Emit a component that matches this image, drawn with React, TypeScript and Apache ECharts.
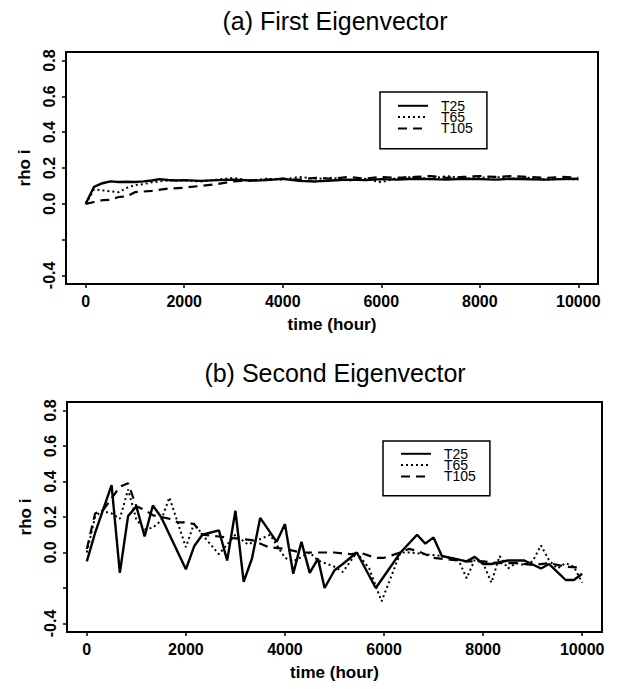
import React, { useEffect, useRef } from "react";
import * as echarts from "echarts";

// ---- data (hours, rho i) ----
const seriesNames = ["T25", "T65", "T105"];
const xTicks = [0, 2000, 4000, 6000, 8000, 10000];
const yTicks = [-0.4, -0.2, 0, 0.2, 0.4, 0.6, 0.8];
const yLabels = [-0.4, 0, 0.2, 0.4, 0.6, 0.8];

const firstT25 = [[0,0.0],[170,0.095],[340,0.115],[500,0.125],[670,0.122],[840,0.123],[1000,0.122],[1170,0.125],[1340,0.13],[1500,0.138],[1670,0.133],[1840,0.13],[2000,0.132],[2330,0.128],[2670,0.132],[3000,0.135],[3330,0.13],[3670,0.132],[4000,0.14],[4330,0.128],[4670,0.125],[5000,0.13],[5330,0.135],[5670,0.132],[6000,0.138],[6330,0.135],[6670,0.14],[7000,0.138],[7330,0.135],[7670,0.14],[8000,0.138],[8330,0.135],[8670,0.14],[9000,0.137],[9330,0.135],[9670,0.138],[10000,0.14]];
const firstT65 = [[0,0.0],[170,0.08],[340,0.075],[500,0.07],[670,0.065],[840,0.09],[1000,0.105],[1170,0.11],[1340,0.12],[1500,0.125],[1670,0.13],[2000,0.13],[2330,0.125],[2670,0.135],[3000,0.145],[3330,0.13],[3670,0.14],[4000,0.135],[4330,0.15],[4670,0.14],[5000,0.145],[5330,0.13],[5670,0.14],[6000,0.12],[6330,0.145],[6670,0.15],[7000,0.14],[7330,0.155],[7670,0.14],[8000,0.145],[8330,0.15],[8670,0.14],[9000,0.145],[9330,0.135],[9670,0.14],[10000,0.135]];
const firstT105 = [[0,0.0],[170,0.01],[340,0.02],[500,0.022],[670,0.038],[840,0.042],[1000,0.065],[1340,0.072],[1670,0.085],[2000,0.09],[2330,0.1],[2670,0.11],[3000,0.125],[3330,0.13],[3670,0.135],[4000,0.14],[4330,0.135],[4670,0.145],[5000,0.14],[5330,0.15],[5670,0.14],[6000,0.15],[6330,0.145],[6670,0.15],[7000,0.155],[7330,0.145],[7670,0.15],[8000,0.155],[8330,0.15],[8670,0.155],[9000,0.15],[9330,0.145],[9670,0.15],[10000,0.145]];

const secondT25 = [[0,-0.05],[167,0.11],[500,0.38],[667,-0.115],[833,0.205],[1000,0.26],[1167,0.09],[1333,0.265],[1500,0.2],[2000,-0.095],[2167,0.035],[2333,0.1],[2667,0.125],[2833,-0.045],[3000,0.235],[3167,-0.165],[3333,-0.035],[3500,0.195],[3833,0.06],[4000,0.16],[4167,-0.12],[4333,0.06],[4500,-0.115],[4667,-0.035],[4800,-0.2],[5000,-0.1],[5167,-0.065],[5450,0.0],[5833,-0.2],[6333,0.0],[6667,0.1],[6833,0.05],[7000,0.085],[7167,-0.02],[7667,-0.05],[7833,-0.025],[8000,-0.065],[8167,-0.065],[8500,-0.045],[8833,-0.045],[9167,-0.09],[9333,-0.065],[9667,-0.155],[9833,-0.155],[10000,-0.12]];
const secondT65 = [[0,0.0],[167,0.2],[300,0.235],[500,0.22],[667,0.19],[833,0.355],[1000,0.185],[1167,0.13],[1333,0.14],[1500,0.18],[1667,0.31],[2000,0.03],[2167,0.165],[2333,0.1],[2667,-0.01],[3000,0.1],[3250,0.045],[3700,0.1],[4000,-0.03],[4167,-0.05],[4500,0.0],[4667,-0.045],[5000,-0.08],[5167,-0.11],[5450,0.0],[5700,-0.09],[5950,-0.275],[6333,0.0],[6550,0.0],[6833,-0.01],[7167,-0.02],[7500,-0.04],[7667,-0.145],[7833,-0.04],[8000,-0.06],[8167,-0.17],[8333,-0.02],[8500,-0.09],[8667,-0.06],[8833,-0.07],[9000,-0.05],[9167,0.04],[9333,-0.045],[9500,-0.09],[9667,-0.06],[9833,-0.08],[10000,-0.17]];
const secondT105 = [[0,0.02],[167,0.22],[333,0.24],[667,0.37],[833,0.39],[1000,0.26],[1167,0.24],[1333,0.21],[1500,0.2],[1667,0.19],[1833,0.17],[2000,0.17],[2167,0.16],[2333,0.1],[2667,0.09],[3000,0.08],[3333,0.07],[3667,0.03],[4000,0.02],[4333,0.0],[4667,0.0],[5000,0.0],[5333,-0.01],[5500,0.0],[5833,-0.03],[6000,-0.03],[6333,0.0],[6500,0.02],[6667,0.01],[7000,-0.03],[7333,-0.04],[7667,-0.05],[8000,-0.05],[8333,-0.06],[8667,-0.06],[9000,-0.07],[9333,-0.06],[9667,-0.08],[10000,-0.085]];

const lineStyles = [
  { type: "solid", width: 2.4 },
  { type: [2, 3], width: 2 },
  { type: [9, 6], width: 2.2 },
];

const FONT = "'Liberation Sans', Arial, Helvetica, sans-serif";

function makeAxes(idx: number) {
  const x = {
    type: "value",
    gridIndex: idx,
    min: -400,
    max: 10400,
    name: "time (hour)",
    nameLocation: "middle",
    nameGap: 32,
    nameTextStyle: { color: "#000", fontFamily: FONT, fontSize: 17, fontWeight: "bold" },
    axisLine: { show: false, onZero: false },
    splitLine: { show: false },
    axisTick: { show: true, length: 4, customValues: xTicks, lineStyle: { color: "#000", width: 1.5 } },
    axisLabel: {
      customValues: xTicks,
      margin: 9,
      color: "#000",
      fontFamily: FONT,
      fontSize: 16,
      fontWeight: "bold",
      formatter: (v: number) => String(Math.round(v)),
    },
  };
  const y = {
    type: "value",
    gridIndex: idx,
    min: -0.448,
    max: 0.848,
    name: "rho i",
    nameLocation: "middle",
    nameRotate: 90,
    nameGap: 31,
    nameTextStyle: { color: "#000", fontFamily: FONT, fontSize: 17, fontWeight: "bold" },
    axisLine: { show: false, onZero: false },
    splitLine: { show: false },
    axisTick: { show: true, length: 4, customValues: yTicks, lineStyle: { color: "#000", width: 1.5 } },
    axisLabel: {
      customValues: yLabels,
      rotate: 90,
      margin: 9,
      color: "#000",
      fontFamily: FONT,
      fontSize: 16,
      fontWeight: "bold",
      formatter: (v: number) => v.toFixed(1),
    },
  };
  return { x, y };
}

function makeLegend(left: number, top: number, padTop: number, padBottom: number) {
  return {
    orient: "vertical",
    left,
    top,
    data: seriesNames,
    itemWidth: 30,
    itemHeight: 10,
    itemGap: -2.7,
    padding: [padTop, 14, padBottom, 17],
    borderColor: "#000",
    borderWidth: 1.5,
    backgroundColor: "#fff",
    selectedMode: false,
    itemStyle: { opacity: 0 },
    textStyle: { color: "#000", fontFamily: FONT, fontSize: 14, padding: [0, 0, 0, 8] },
  };
}

export default function App() {
  const ref = useRef<HTMLDivElement>(null);
  useEffect(() => {
    if (!ref.current) return;
    const chart = echarts.init(ref.current, undefined, { renderer: "svg" });
    const a = makeAxes(0);
    const b = makeAxes(1);
    const groups = [
      [firstT25, firstT65, firstT105],
      [secondT25, secondT65, secondT105],
    ];
    const series: any[] = [];
    groups.forEach((g, gi) => {
      g.forEach((d, si) => {
        series.push({
          type: "line",
          name: seriesNames[si],
          xAxisIndex: gi,
          yAxisIndex: gi,
          data: d,
          symbol: "none",
          lineStyle: { color: "#000", ...lineStyles[si] },
          itemStyle: { color: "#000" },
          z: 3 - si,
        });
      });
    });
    const titleStyle = { color: "#000", fontFamily: FONT, fontSize: 25, fontWeight: "normal" };
    chart.setOption({
      animation: false,
      backgroundColor: "#fff",
      title: [
        { text: "(a) First Eigenvector", left: 330, top: 3, textAlign: "center", textStyle: titleStyle },
        { text: "(b) Second Eigenvector", left: 330, top: 355, textAlign: "center", textStyle: titleStyle },
      ],
      grid: [
        { left: 66, top: 52, width: 532, height: 232, show: true, borderColor: "#000", borderWidth: 2, backgroundColor: "transparent" },
        { left: 67, top: 402, width: 535, height: 230, show: true, borderColor: "#000", borderWidth: 2, backgroundColor: "transparent" },
      ],
      legend: [makeLegend(380, 92, 6.8, 13.4), makeLegend(383, 441, 5.8, 12.4)],
      xAxis: [a.x, b.x],
      yAxis: [a.y, b.y],
      series,
    });
    return () => chart.dispose();
  }, []);
  return (
    <div
      ref={ref}
      style={{ position: "fixed", left: 0, top: 0, width: 618, height: 689, background: "#fff" }}
    />
  );
}
